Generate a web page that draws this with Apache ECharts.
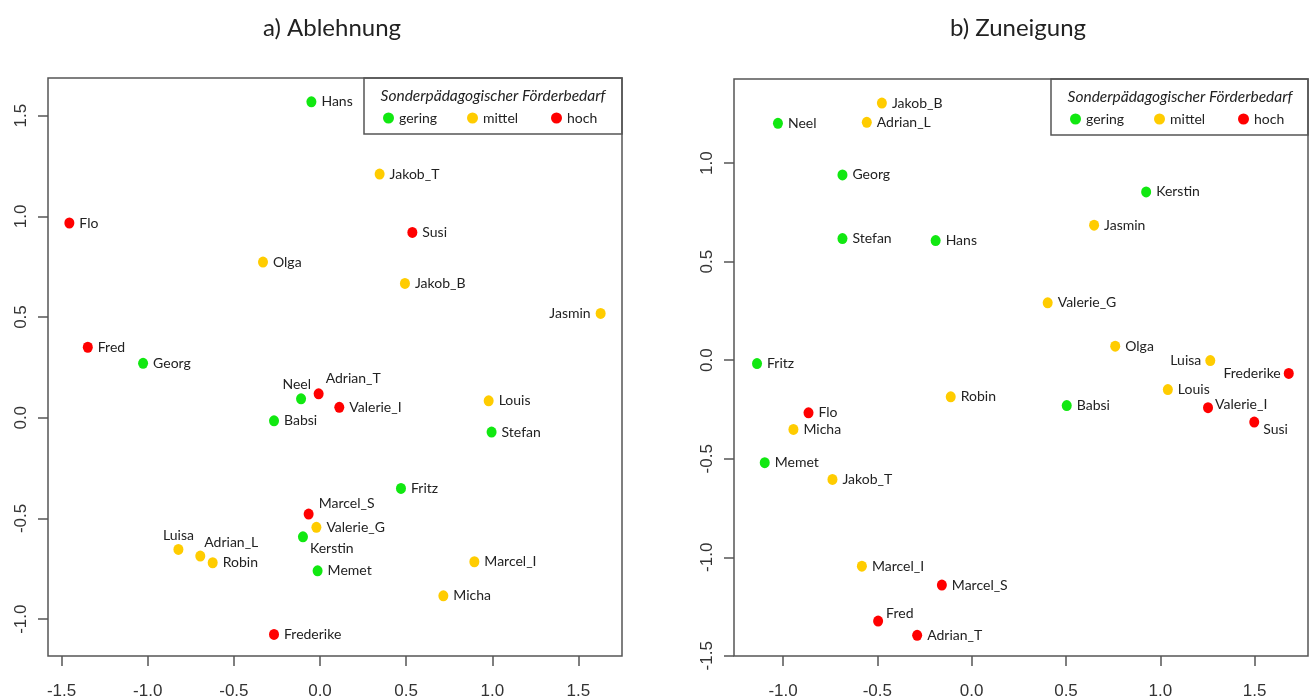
<!DOCTYPE html>
<html>
<head>
<meta charset="utf-8">
<script src="https://cdn.jsdelivr.net/npm/echarts@6/dist/echarts.min.js"></script>
<style>
  html, body { margin: 0; padding: 0; background: #ffffff; }
  #chart { width: 1309px; height: 700px; }
</style>
</head>
<body>
<div id="chart"></div>
<script>
// Pupils and their level of special educational need
const names = ['Hans', 'Flo', 'Olga', 'Fred', 'Georg', 'Jakob_T', 'Susi', 'Jakob_B', 'Jasmin', 'Neel',
  'Adrian_T', 'Babsi', 'Marcel_S', 'Valerie_G', 'Kerstin', 'Memet', 'Luisa', 'Adrian_L', 'Robin',
  'Frederike', 'Valerie_I', 'Louis', 'Stefan', 'Fritz', 'Marcel_I', 'Micha'];
const levels = ['gering', 'hoch', 'mittel', 'hoch', 'gering', 'mittel', 'hoch', 'mittel', 'mittel', 'gering',
  'hoch', 'gering', 'hoch', 'mittel', 'gering', 'gering', 'mittel', 'mittel', 'mittel',
  'hoch', 'hoch', 'mittel', 'gering', 'gering', 'mittel', 'mittel'];

// a) Ablehnung: MDS coordinates
const ablehnungX = [-0.050, -1.455, -0.331, -1.348, -1.027, 0.346, 0.536, 0.493, 1.629, -0.110,
  -0.008, -0.267, -0.066, -0.021, -0.099, -0.014, -0.822, -0.695, -0.623,
  -0.267, 0.112, 0.979, 0.996, 0.470, 0.896, 0.716];
const ablehnungY = [1.569, 0.967, 0.773, 0.350, 0.270, 1.210, 0.920, 0.667, 0.518, 0.094,
  0.119, -0.015, -0.478, -0.544, -0.591, -0.760, -0.654, -0.687, -0.720,
  -1.076, 0.052, 0.084, -0.071, -0.351, -0.715, -0.884];

// b) Zuneigung: MDS coordinates
const zuneigungX = [-0.191, -0.865, 0.761, -0.496, -0.685, -0.738, 1.498, -0.476, 0.649, -1.027,
  -0.289, 0.504, -0.158, 0.403, 0.925, -1.097, 1.265, -0.556, -0.111,
  1.681, 1.253, 1.040, -0.685, -1.138, -0.582, -0.945];
const zuneigungY = [0.607, -0.267, 0.071, -1.324, 0.940, -0.605, -0.314, 1.305, 0.685, 1.202,
  -1.396, -0.230, -1.141, 0.291, 0.854, -0.520, -0.002, 1.207, -0.186,
  -0.067, -0.241, -0.149, 0.617, -0.017, -1.045, -0.351];

const levelNames = ['gering', 'mittel', 'hoch'];
const legendTitle = 'Sonderpädagogischer Förderbedarf';
const panelTitles = ['a) Ablehnung', 'b) Zuneigung'];

// Tick values
const ablehnungTicksX = [-1.5, -1.0, -0.5, 0.0, 0.5, 1.0, 1.5];
const ablehnungTicksY = [-1.0, -0.5, 0.0, 0.5, 1.0, 1.5];
const zuneigungTicksX = [-1.0, -0.5, 0.0, 0.5, 1.0, 1.5];
const zuneigungTicksY = [-1.5, -1.0, -0.5, 0.0, 0.5, 1.0];

// ---- styling ----
const colors = { gering: '#11e811', mittel: '#ffcc00', hoch: '#ff0000' };
const labelFont = 'Lato, "Open Sans", sans-serif';
const tickFont = '"Liberation Sans", Arial, sans-serif';
const frameColor = '#555555';

// label offsets relative to the point: [dx, dy, align]
const labelSpotA = {
  Neel: [10, -14, 'right'], Adrian_T: [7, -15, 'left'], Luisa: [0, -14, 'center'],
  Adrian_L: [4, -14, 'left'], Marcel_S: [10, -11, 'left'], Kerstin: [7, 12, 'left'],
  Jasmin: [-10, 0, 'right']
};
const labelSpotB = {
  Luisa: [-9, 0, 'right'], Frederike: [-8, 0, 'right'], Valerie_I: [7, -3, 'left'],
  Susi: [9, 7, 'left'], Fred: [8, -8, 'left']
};

function pointsFor(level, xs, ys, spots) {
  const out = [];
  names.forEach((n, i) => {
    if (levels[i] !== level) return;
    const s = spots[n] || [10, 0, 'left'];
    out.push({
      name: n,
      value: [xs[i], ys[i]],
      label: { offset: [s[0], s[1]], align: s[2] }
    });
  });
  return out;
}

function buildSeries(xs, ys, spots, idx) {
  return levelNames.map(level => ({
    name: level,
    type: 'scatter',
    xAxisIndex: idx,
    yAxisIndex: idx,
    symbol: 'circle',
    symbolSize: [10, 11],
    itemStyle: { color: colors[level], opacity: 1 },
    label: {
      show: true,
      position: 'inside',
      verticalAlign: 'middle',
      formatter: p => p.name,
      color: '#222222',
      fontFamily: labelFont,
      fontSize: 14
    },
    emphasis: { disabled: true },
    data: pointsFor(level, xs, ys, spots)
  }));
}

const fmt = v => v.toFixed(1);

function xAxisFor(idx, min, max, ticks) {
  return {
    type: 'value', gridIndex: idx, min: min, max: max,
    splitLine: { show: false },
    axisLine: { show: false, onZero: false },
    axisTick: { show: true, length: 10, inside: false, customValues: ticks,
      lineStyle: { color: frameColor, width: 1.5 } },
    axisLabel: { show: true, customValues: ticks, formatter: fmt, margin: 27,
      fontFamily: tickFont, fontSize: 17, color: '#333333' }
  };
}
function yAxisFor(idx, min, max, ticks) {
  return {
    type: 'value', gridIndex: idx, min: min, max: max,
    splitLine: { show: false },
    axisLine: { show: false, onZero: false },
    axisTick: { show: true, length: 10, inside: false, customValues: ticks,
      lineStyle: { color: frameColor, width: 1.5 } },
    axisLabel: { show: true, customValues: ticks, formatter: fmt, rotate: 90, margin: 18,
      fontFamily: tickFont, fontSize: 17, color: '#333333' }
  };
}

function legendFor(left, top) {
  return {
    data: [
      { name: 'gering' },
      { name: 'mittel' },
      { name: 'hoch', textStyle: { width: 36 } }
    ],
    left: left, top: top, width: 260, orient: 'horizontal', padding: 0, itemGap: 0,
    icon: 'circle', itemWidth: 11, itemHeight: 11,
    selectedMode: false,
    textStyle: { fontFamily: labelFont, fontSize: 14, color: '#222222', width: 68, lineHeight: 16 }
  };
}

function titleAt(text, x, y, size, italic) {
  return {
    text: text, left: x, top: y, padding: 0,
    textAlign: 'center', textVerticalAlign: 'middle',
    textStyle: { fontFamily: labelFont, fontSize: size, fontWeight: 'normal',
      fontStyle: italic ? 'italic' : 'normal', color: '#222222' }
  };
}

const chart = echarts.init(document.getElementById('chart'), null, { renderer: 'canvas' });

chart.setOption({
  backgroundColor: '#ffffff',
  animation: false,
  title: [
    titleAt(panelTitles[0], 332, 28, 24, false),
    titleAt(panelTitles[1], 1018, 28, 24, false),
    titleAt(legendTitle, 493, 96, 15.5, true),
    titleAt(legendTitle, 1180, 97, 15.5, true)
  ],
  legend: [legendFor(383, 110), legendFor(1070, 111)],
  grid: [
    { left: 48, top: 78, width: 574, height: 578, show: true, borderColor: frameColor, borderWidth: 1.5, backgroundColor: 'transparent' },
    { left: 734, top: 79, width: 574, height: 578, show: true, borderColor: frameColor, borderWidth: 1.5, backgroundColor: 'transparent' }
  ],
  xAxis: [
    xAxisFor(0, -1.579, 1.753, ablehnungTicksX),
    xAxisFor(1, -1.260, 1.783, zuneigungTicksX)
  ],
  yAxis: [
    yAxisFor(0, -1.183, 1.687, ablehnungTicksY),
    yAxisFor(1, -1.501, 1.427, zuneigungTicksY)
  ],
  graphic: [
    { type: 'rect', shape: { x: 364, y: 78, width: 258, height: 56 }, silent: true,
      style: { fill: 'transparent', stroke: frameColor, lineWidth: 1.5 } },
    { type: 'rect', shape: { x: 1051, y: 79, width: 257, height: 56 }, silent: true,
      style: { fill: 'transparent', stroke: frameColor, lineWidth: 1.5 } }
  ],
  series: buildSeries(ablehnungX, ablehnungY, labelSpotA, 0)
    .concat(buildSeries(zuneigungX, zuneigungY, labelSpotB, 1))
});
</script>
</body>
</html>
